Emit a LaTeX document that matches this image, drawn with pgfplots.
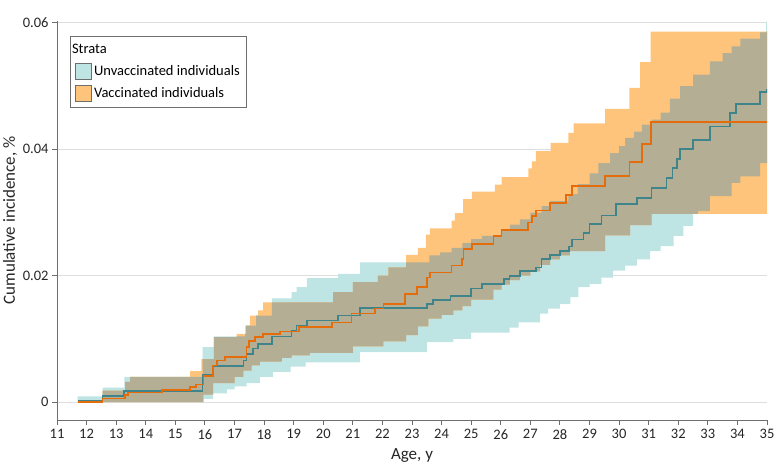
\documentclass[border=0pt]{standalone}
\usepackage{fontspec}
\setmainfont{Carlito}
\usepackage{pgfplots}
\usepackage{pgfplotstable}
\pgfplotsset{compat=1.18}
\usepgfplotslibrary{fillbetween}
\definecolor{tealband}{RGB}{191,228,228}
\definecolor{orangeband}{RGB}{255,196,124}
\definecolor{overlapc}{RGB}{179,174,148}
\definecolor{tealline}{RGB}{62,132,138}
\definecolor{orangeline}{RGB}{228,108,10}
\definecolor{axisgray}{RGB}{110,110,110}
\definecolor{gridgray}{RGB}{222,222,222}

% Unvaccinated: upper / lower CI
\pgfplotstableread{
x y
11.70 0.0009
12.54 0.0023
13.28 0.0040
15.92 0.0087
16.30 0.0104
17.36 0.0121
17.73 0.0137
18.26 0.0164
18.93 0.0174
19.10 0.0182
19.45 0.0196
20.50 0.0203
21.25 0.0221
23.59 0.0232
23.95 0.0237
24.34 0.0244
24.70 0.0252
25.00 0.0258
25.36 0.0263
26.00 0.0272
26.31 0.0281
26.65 0.0289
27.00 0.0300
27.38 0.0310
27.67 0.0318
28.29 0.0329
28.60 0.0345
29.00 0.0362
29.30 0.0378
29.70 0.0394
30.00 0.0405
30.20 0.0418
30.50 0.0428
30.77 0.0439
31.10 0.0447
31.40 0.0458
31.72 0.0480
32.06 0.0500
32.50 0.0518
33.07 0.0539
33.50 0.0552
33.80 0.0563
34.10 0.0575
34.77 0.0585
34.97 0.0602
35.00 0.0602
}\TU
\pgfplotstableread{
x y
11.70 0
15.95 0.0005
16.28 0.0014
16.74 0.0020
17.00 0.0025
17.41 0.0030
17.86 0.0040
18.30 0.0048
18.90 0.0056
19.40 0.0063
21.24 0.0079
23.50 0.0095
24.40 0.0100
25.00 0.0110
26.30 0.0118
26.60 0.0126
27.33 0.0140
27.60 0.0148
28.00 0.0155
28.35 0.0166
28.62 0.0182
29.00 0.0187
29.40 0.0197
29.80 0.0208
30.20 0.0216
30.60 0.0226
31.05 0.0239
31.40 0.0247
31.84 0.0263
32.17 0.0279
32.50 0.0298
32.67 0.0302
33.07 0.0326
33.80 0.0347
34.10 0.0357
34.77 0.0378
35.00 0.0386
}\TL
% Vaccinated: upper / lower CI
\pgfplotstableread{
x y
11.70 0
12.54 0.0018
13.30 0.0032
13.47 0.0040
15.50 0.0049
15.88 0.0068
16.30 0.0103
17.07 0.0108
17.39 0.0121
17.52 0.0137
17.80 0.0145
17.97 0.0158
20.33 0.0174
21.00 0.0190
21.85 0.0200
22.20 0.0213
22.80 0.0233
23.20 0.0244
23.47 0.0265
23.60 0.0275
24.34 0.0287
24.45 0.0299
24.73 0.0321
25.02 0.0333
25.80 0.0344
26.03 0.0356
26.93 0.0370
27.05 0.0381
27.19 0.0397
27.69 0.0410
28.29 0.0426
28.46 0.0441
29.53 0.0464
30.35 0.0497
30.71 0.0538
31.07 0.0586
35.00 0.0586
}\OU
\pgfplotstableread{
x y
11.70 0
15.95 0.0012
16.28 0.0030
17.00 0.0040
17.30 0.0050
17.58 0.0058
17.86 0.0064
18.60 0.0070
18.93 0.0074
19.55 0.0078
21.00 0.0088
22.03 0.0096
22.80 0.0106
23.20 0.0120
23.55 0.0132
24.00 0.0138
24.40 0.0145
24.70 0.0152
25.00 0.0162
25.75 0.0178
26.03 0.0186
26.31 0.0193
26.65 0.0200
27.00 0.0207
27.33 0.0217
27.67 0.0226
28.00 0.0232
28.34 0.0239
29.53 0.0264
30.37 0.0280
31.10 0.0298
35.00 0.0298
}\OL
% Overlap of the two bands: min of uppers, max of lowers
\pgfplotstableread{
x y
11.70 0
12.54 0.0018
13.30 0.0032
13.47 0.0040
15.92 0.0068
16.30 0.0103
17.07 0.0104
17.36 0.0108
17.39 0.0121
17.73 0.0137
18.26 0.0158
20.33 0.0174
21.00 0.0190
21.85 0.0200
22.20 0.0213
22.80 0.0221
23.59 0.0232
23.95 0.0237
24.34 0.0244
24.70 0.0252
25.00 0.0258
25.36 0.0263
26.00 0.0272
26.31 0.0281
26.65 0.0289
27.00 0.0300
27.38 0.0310
27.67 0.0318
28.29 0.0329
28.60 0.0345
29.00 0.0362
29.30 0.0378
29.70 0.0394
30.00 0.0405
30.20 0.0418
30.50 0.0428
30.77 0.0439
31.10 0.0447
31.40 0.0458
31.72 0.0480
32.06 0.0500
32.50 0.0518
33.07 0.0539
33.50 0.0552
33.80 0.0563
34.10 0.0575
34.77 0.0585
34.97 0.0586
35.00 0.0586
}\MU
\pgfplotstableread{
x y
11.70 0
15.95 0.0012
16.28 0.0030
17.00 0.0040
17.30 0.0050
17.58 0.0058
17.86 0.0064
18.60 0.0070
18.93 0.0074
19.55 0.0078
21.00 0.0088
22.03 0.0096
22.80 0.0106
23.20 0.0120
23.55 0.0132
24.00 0.0138
24.40 0.0145
24.70 0.0152
25.00 0.0162
25.75 0.0178
26.03 0.0186
26.31 0.0193
26.65 0.0200
27.00 0.0207
27.33 0.0217
27.67 0.0226
28.00 0.0232
28.34 0.0239
29.53 0.0264
30.37 0.0280
31.10 0.0298
32.67 0.0302
33.07 0.0326
33.80 0.0347
34.10 0.0357
34.77 0.0378
35.00 0.0386
}\ML
% Cumulative incidence estimates
\pgfplotstableread{
x y
11.70 0.0002
12.54 0.0010
13.27 0.0018
15.92 0.0043
16.28 0.0057
17.30 0.0066
17.40 0.0076
17.62 0.0085
17.80 0.0092
18.26 0.0104
18.93 0.0113
19.10 0.0121
19.45 0.0129
20.50 0.0137
21.24 0.0149
23.50 0.0155
23.70 0.0162
24.30 0.0168
25.00 0.0180
25.36 0.0187
26.10 0.0195
26.30 0.0200
26.65 0.0207
27.20 0.0213
27.38 0.0226
27.67 0.0233
28.00 0.0239
28.30 0.0246
28.40 0.0257
28.80 0.0268
29.00 0.0282
29.40 0.0295
29.90 0.0313
30.60 0.0323
31.10 0.0339
31.60 0.0355
31.80 0.0370
31.95 0.0385
32.06 0.0400
32.50 0.0415
33.07 0.0436
33.75 0.0457
33.95 0.0472
34.77 0.0491
35.00 0.0496
}\TK
\pgfplotstableread{
x y
11.70 0
12.54 0.0006
13.30 0.0011
13.40 0.0015
14.55 0.0019
15.50 0.0024
15.70 0.0028
15.95 0.0041
16.28 0.0058
16.40 0.0066
16.67 0.0071
17.40 0.0087
17.50 0.0097
17.70 0.0103
17.97 0.0108
18.54 0.0112
19.19 0.0119
20.29 0.0126
20.96 0.0140
21.75 0.0148
22.03 0.0155
22.76 0.0171
23.16 0.0182
23.50 0.0197
23.61 0.0205
24.34 0.0216
24.68 0.0226
24.74 0.0242
25.02 0.0250
25.75 0.0263
26.03 0.0272
26.93 0.0284
27.05 0.0294
27.19 0.0303
27.67 0.0315
28.20 0.0328
28.40 0.0342
29.53 0.0358
30.35 0.0380
30.77 0.0408
31.07 0.0443
35.00 0.0443
}\OK

\begin{document}
\begin{tikzpicture}
\begin{axis}[
  name=ax,
  scale only axis, width=710pt, height=399pt,
  xmin=11, xmax=35, ymin=-0.00283, ymax=0.0603,
  axis x line*=bottom, axis y line*=left,
  axis line style={axisgray, line width=0.9pt},
  xtick={11,...,35},
  ytick={0,0.02,0.04,0.06}, yticklabels={0,0.02,0.04,0.06},
  scaled y ticks=false, scaled x ticks=false,
  xtick pos=left, ytick pos=left,
  tick align=outside, major tick length=5pt,
  tick style={axisgray, line width=0.9pt},
  /pgf/number format/assume math mode=true,
  tick label style={font=\fontsize{14.5}{16}\selectfont, text=black!85},
  xticklabel style={yshift=-1pt},
  ymajorgrids, grid style={gridgray, line width=1.2pt},
  xlabel={Age, y}, ylabel={Cumulative incidence, \%},
  label style={font=\fontsize{17}{19}\selectfont, text=black!85},
  xlabel style={at={(axis description cs:0.5,-0.088)}, anchor=center},
  ylabel style={at={(axis description cs:-0.066,0.5)}, anchor=center},
  legend style={at={(0.0183,0.962)}, anchor=north west, draw=axisgray,
    line width=0.8pt, font=\fontsize{14.5}{17}\selectfont,
    cells={anchor=west}, row sep=5.5pt, inner xsep=5pt, inner ysep=6pt},
  legend cell align=left,
]
\addplot[draw=none, const plot, name path=TU, forget plot] table {\TU};
\addplot[draw=none, const plot, name path=TL, forget plot] table {\TL};
\addplot[draw=none, const plot, name path=OU, forget plot] table {\OU};
\addplot[draw=none, const plot, name path=OL, forget plot] table {\OL};
\addplot[draw=none, const plot, name path=MU, forget plot] table {\MU};
\addplot[draw=none, const plot, name path=ML, forget plot] table {\ML};
\addplot[tealband, forget plot] fill between[of=TU and TL];
\addplot[orangeband, forget plot] fill between[of=OU and OL];
\addplot[overlapc, forget plot] fill between[of=MU and ML];
\addplot[tealline, line width=1.6pt, const plot, forget plot] table {\TK};
\addplot[orangeline, line width=1.6pt, const plot, forget plot] table {\OK};

\addlegendimage{empty legend}
\addlegendentry{\hspace*{-22pt}Strata}
\addlegendimage{legend image code/.code={\draw[fill=tealband, draw=axisgray, line width=0.7pt] (0pt,-8pt) rectangle (16pt,8pt);}}
\addlegendentry{Unvaccinated individuals}
\addlegendimage{legend image code/.code={\draw[fill=orangeband, draw=axisgray, line width=0.7pt] (0pt,-8pt) rectangle (16pt,8pt);}}
\addlegendentry{Vaccinated individuals}
\end{axis}
\pgfresetboundingbox
\path[use as bounding box] ([xshift=-57pt,yshift=-52pt]ax.south west) rectangle ([xshift=723pt,yshift=420pt]ax.south west);
\end{tikzpicture}
\end{document}
